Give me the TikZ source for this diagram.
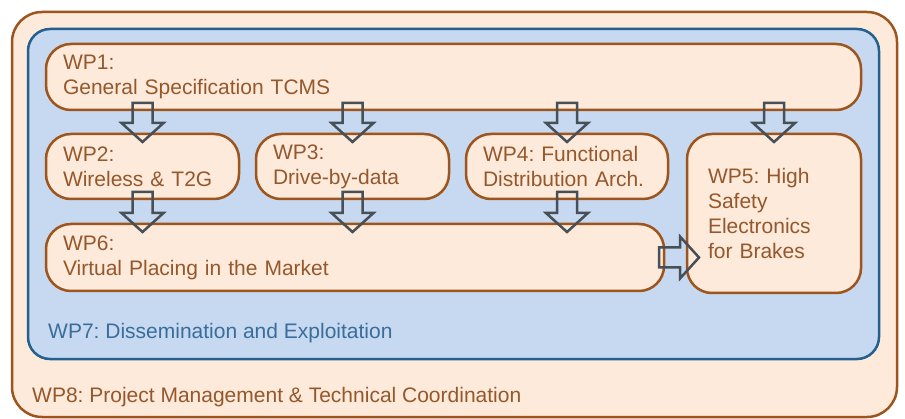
\documentclass[tikz,border=0pt]{standalone}
\usepackage{fontspec}
\setmainfont{Liberation Sans}
\usetikzlibrary{positioning,calc}
\definecolor{wpbrown}{HTML}{9E541D}
\definecolor{wptext}{HTML}{94582C}
\definecolor{wppeach}{HTML}{FDEADA}
\definecolor{wpblue}{HTML}{C6D9F1}
\definecolor{wpblueline}{HTML}{23608F}
\definecolor{wpbluetext}{HTML}{3A6D9A}
\definecolor{arrowgray}{HTML}{474F57}
\frenchspacing
\tikzset{wpbox/.style={draw=wpbrown,fill=wppeach,line width=2.5pt,rounded corners=25pt,
	 text=wptext,align=left,inner xsep=17pt,inner ysep=0pt,outer sep=0pt,anchor=north west},
	 blockarrow/.style={draw=arrowgray,line width=2.5pt,line join=miter,
	 to path={let \p1=(\tikztostart), \p2=(\tikztotarget),
	 \n1={atan2(\y2-\y1,\x2-\x1)}, \p3=($(\p2)+(\n1+180:19pt)$) in
	 ($(\p1)+(\n1+90:10pt)$) -- ($(\p3)+(\n1+90:10pt)$) -- ($(\p3)+(\n1+90:21pt)$)
	 -- (\p2) -- ($(\p3)+(\n1-90:21pt)$) -- ($(\p3)+(\n1-90:10pt)$)
	 -- ($(\p1)+(\n1-90:10pt)$) -- cycle}},
	 x=1pt,y=1pt
	 }

\begin{document}
\begin{tikzpicture}[font=\fontsize{21}{25}\selectfont] % work packages
	\useasboundingbox (0,0) rectangle (905,418);
	\draw[draw=wpbrown,fill=wppeach,line width=2.5pt,rounded corners=30pt] (12,1) rectangle (897,406);
	\draw[draw=wpblueline,fill=wpblue,line width=2.5pt,rounded corners=22pt] (28,59) rectangle (879,389);
	\node[wpbox,text width=781pt,minimum height=66pt] (wp1) at (46,374) {WP1:\\General Specification TCMS};
	\node[wpbox,text width=159pt,minimum height=65pt] (wp2) [below right=24pt and 0pt of wp1.south west] {WP2:\\Wireless \& T2G};
	\node[wpbox,text width=159pt,minimum height=65pt,anchor=west] (wp3) [right=17pt of wp2] {WP3:\\Drive-by-data};
	\node[wpbox,text width=168pt,minimum height=65pt,anchor=west] (wp4) [right=17pt of wp3] {WP4: Functional\\Distribution Arch.};
	\node[wpbox,text width=132pt,inner xsep=21pt,minimum height=159pt] (wp5) [below right=0pt and 19pt of wp4.north east] {WP5: High\\Safety\\Electronics\\for Brakes};
	\node[wpbox,text width=584pt,minimum height=67pt] (wp6) [below right=25pt and 0pt of wp2.south west] {WP6:\\Virtual Placing in the Market};
	\node[anchor=base west,inner sep=0pt,text=wpbluetext] (wp7) at (48,80) {WP7: Dissemination and Exploitation};
	\node[anchor=base west,inner sep=0pt,text=wptext] (wp8) at (32,16) {WP8: Project Management \& Technical Coordination};
	\draw[blockarrow] ($(wp1.south -| wp2.north)+(0,7)$) to ($(wp2.north)+(0,-8)$);
	\draw[blockarrow] ($(wp1.south -| wp3.north)+(0,7)$) to ($(wp3.north)+(0,-8)$);
	\draw[blockarrow] ($(wp1.south -| wp4.north)+(0,7)$) to ($(wp4.north)+(0,-8)$);
	\draw[blockarrow] ($(wp1.south -| wp5.north)+(0,7)$) to ($(wp5.north)+(0,-8)$);
	\draw[blockarrow] ($(wp2.south)+(0,7)$) to ($(wp2.south |- wp6.north)+(0,-8)$);
	\draw[blockarrow] ($(wp3.south)+(0,7)$) to ($(wp3.south |- wp6.north)+(0,-8)$);
	\draw[blockarrow] ($(wp4.south)+(0,7)$) to ($(wp4.south |- wp6.north)+(0,-8)$);
	\draw[blockarrow] ($(wp6.east)+(-5,0)$) to ($(wp6.east -| wp5.west)+(12,0)$);
\end{tikzpicture}
\end{document}
